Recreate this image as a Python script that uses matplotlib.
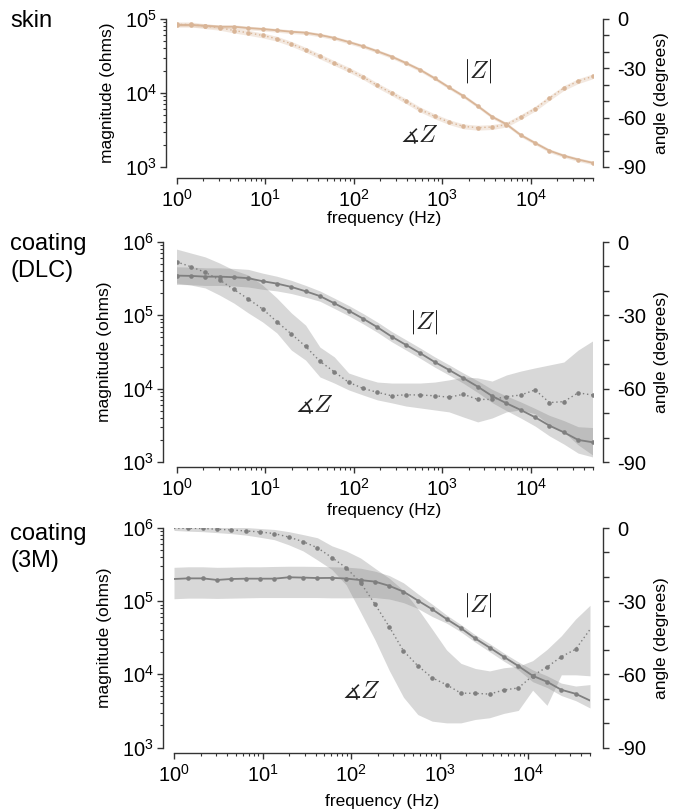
import matplotlib
matplotlib.use("Agg")
import matplotlib.pyplot as plt
import matplotlib.ticker as mticker
import numpy as np

plt.rcParams['font.family'] = ['Liberation Sans', 'DejaVu Sans']

# frequency sweep (Hz), 30 log-spaced points 1 Hz .. 50 kHz
freq = [1.0, 1.45, 2.11, 3.06, 4.45, 6.46, 9.38, 13.6, 19.8, 28.7,
        41.7, 60.6, 88.0, 128, 186, 270, 391, 568, 825, 1199,
        1741, 2528, 3671, 5332, 7743, 11245, 16330, 23715, 34440, 50000]

# skin
skin_mag = [83000, 83000, 81000, 78700, 78700, 75500, 73200, 70300, 67300, 65300,
            60800, 55400, 48900, 42800, 36600, 31000, 25400, 20500, 15800, 11900,
            9100, 6660, 4780, 3780, 2700, 2110, 1660, 1420, 1260, 1140]
skin_ang = [-3.3, -3.3, -4.4, -5.3, -7.0, -8.4, -10.0, -12.0, -15.1, -18.7,
            -22.8, -26.8, -30.8, -35.3, -40.4, -45.1, -50.0, -55.1, -59.2, -62.7,
            -65.3, -66.1, -65.7, -64.2, -59.6, -54.5, -48.1, -42.0, -37.8, -34.9]
skin_mag_sd = 0.025   # decades
skin_ang_sd = 1.5     # degrees

# coating (DLC)
dlc_mag = [348000, 345000, 337000, 337000, 331000, 321000, 292000, 271000, 244000, 213000,
           183000, 146000, 116000, 90100, 68800, 51200, 39500, 30400, 23100, 18000,
           13900, 10650, 7950, 6320, 5120, 4070, 3130, 2540, 2000, 1860]
dlc_mag_sd = [0.12, 0.12, 0.12, 0.12, 0.12, 0.12, 0.11, 0.10, 0.09, 0.08,
              0.07, 0.07, 0.07, 0.07, 0.07, 0.07, 0.07, 0.07, 0.07, 0.07,
              0.07, 0.08, 0.09, 0.10, 0.11, 0.12, 0.14, 0.16, 0.18, 0.20]
dlc_ang = [-8.1, -10.1, -12.4, -15.5, -19.4, -23.3, -27.4, -32.6, -37.6, -42.7,
           -48.8, -53.1, -57.4, -59.9, -61.5, -62.9, -62.5, -62.6, -62.9, -63.5,
           -62.3, -64.4, -64.4, -63.3, -62.6, -60.5, -65.7, -65.3, -61.7, -62.6]
dlc_ang_hi = [-2.9, -4.5, -6.1, -8.6, -11.5, -13.5, -17.6, -22.9, -29.0, -34.0,
              -43.0, -47.0, -53.6, -55.6, -57.3, -57.7, -57.7, -57.7, -57.3, -56.4,
              -55.2, -55.6, -56.9, -54.4, -52.8, -51.5, -50.3, -49.1, -44.2, -40.5]
dlc_ang_lo = [-16.8, -17.6, -18.8, -21.7, -25.0, -29.0, -32.7, -37.2, -44.2, -48.3,
              -55.2, -57.7, -60.5, -62.6, -64.6, -65.8, -67.1, -67.9, -68.7, -69.5,
              -71.6, -73.6, -72.0, -69.5, -68.7, -70.3, -74.8, -77.7, -83.0, -87.1]

# coating (3M)
m3_mag = [201000, 205000, 205000, 195000, 201000, 203000, 203000, 203000, 212000, 210000,
          207000, 208000, 204000, 194000, 185000, 162000, 135000, 102000, 77500, 57000,
          42800, 30900, 23200, 17300, 13000, 9570, 7920, 6150, 5420, 4390]
m3_mag_hi = [290000, 295000, 295000, 290000, 292000, 295000, 295000, 298000, 300000, 300000,
             298000, 295000, 292000, 282000, 257000, 224000, 178000, 126000, 91000, 64600,
             47900, 34700, 26300, 19500, 14800, 11500, 9550, 7590, 6920, 7240]
m3_mag_lo = [108000, 110000, 110000, 109000, 110000, 111000, 112000, 112000, 112000, 112000,
             112000, 111000, 111000, 112000, 112000, 107000, 95500, 79400, 61700, 50100,
             38000, 27500, 20400, 15100, 11500, 7940, 6610, 5130, 4370, 3470]
m3_ang = [-0.2, -0.1, -0.2, -0.5, -0.8, -1.2, -1.6, -2.3, -3.7, -5.6,
          -8.1, -12.1, -16.3, -22.4, -31.2, -40.5, -50.4, -56.5, -61.4, -64.3,
          -67.7, -67.8, -68.1, -66.4, -65.6, -60.6, -57.0, -52.8, -49.7, -41.6]
m3_ang_hi = [1.0, 0.8, 0.6, 0.6, 0.4, 0.2, -0.2, -0.6, -1.5, -2.7,
             -4.0, -7.3, -9.4, -12.3, -16.5, -20.6, -25.6, -33.1, -41.5, -50.0,
             -55.5, -57.6, -58.6, -57.3, -56.7, -54.4, -49.8, -44.2, -37.3, -31.7]
m3_ang_lo = [-1.0, -1.3, -1.5, -1.9, -2.3, -2.9, -3.8, -4.8, -6.9, -9.4,
             -13.1, -17.0, -23.3, -34.5, -45.8, -58.4, -69.4, -76.5, -79.2, -79.9,
             -79.9, -78.5, -77.8, -76.0, -74.8, -66.5, -72.7, -60.2, -60.2, -60.6]


def panel(rect, mag, mag_lo, mag_hi, ang, ang_lo, ang_hi, color, ylim,
          label_pos, out, xlabelpad, markevery=None):
    ax = fig.add_axes(rect)
    ax2 = ax.twinx()

    ax.fill_between(freq, mag_lo, mag_hi, color=color, alpha=0.3, lw=0)
    ax.plot(freq, mag, '-', color=color, lw=1.3, marker='o', ms=3.3,
            mew=0, markevery=markevery)
    ax2.fill_between(freq, ang_lo, ang_hi, color=color, alpha=0.3, lw=0)
    ax2.plot(freq, ang, color=color, lw=1.0, ls=(0, (1, 2)), marker='o',
             ms=3.3, mew=0, markevery=markevery)

    ax.set_xscale('log')
    ax.set_yscale('log')
    ax.set_xlim(1, 5e4)
    ax.set_ylim(*ylim)
    ax2.set_ylim(-90, 0)

    for s in ['top', 'right']:
        ax.spines[s].set_visible(False)
    for s in ['top', 'left', 'bottom']:
        ax2.spines[s].set_visible(False)
    ax.spines['left'].set_position(('outward', out[0]))
    ax.spines['bottom'].set_position(('outward', out[1]))
    ax2.spines['right'].set_position(('outward', out[2]))
    for a in (ax, ax2):
        for s in a.spines.values():
            s.set_color('#333333')
            s.set_linewidth(1.0)

    ax.xaxis.set_major_locator(mticker.LogLocator(base=10, numticks=10))
    ax.xaxis.set_minor_locator(mticker.LogLocator(base=10, subs=np.arange(2, 10), numticks=10))
    ax.yaxis.set_major_locator(mticker.LogLocator(base=10, numticks=10))
    ax.yaxis.set_minor_locator(mticker.LogLocator(base=10, subs=np.arange(2, 10), numticks=10))
    ax.yaxis.set_minor_formatter(mticker.NullFormatter())
    ax.xaxis.set_minor_formatter(mticker.NullFormatter())
    ax2.yaxis.set_major_locator(mticker.MultipleLocator(30))
    ax2.yaxis.set_minor_locator(mticker.MultipleLocator(10))
    ax2.yaxis.set_major_formatter(mticker.FuncFormatter(lambda v, p: '%d' % v))

    ax.tick_params(which='major', length=4, width=1.0, color='#333333', labelsize=14.5)
    ax.tick_params(which='minor', length=2.5, width=0.8, color='#333333')
    ax.tick_params(axis='y', which='major', pad=2.5)
    ax.tick_params(axis='x', which='major', pad=4)
    ax2.tick_params(which='both', length=4, width=1.0, color='#333333', labelsize=14.5, pad=6)

    ax.set_xlabel('frequency (Hz)', fontsize=12.5, labelpad=xlabelpad)
    ax.set_ylabel('magnitude (ohms)', fontsize=12.5, labelpad=7)
    ax2.set_ylabel('angle (degrees)', fontsize=12.5, labelpad=6)

    ax.text(label_pos[0][0], label_pos[0][1], r'$|Z|$', fontsize=18,
            math_fontfamily='cm', ha='center', va='center', color='#222222')
    ax.text(label_pos[1][0], label_pos[1][1], r'$\measuredangle Z$', fontsize=18,
            math_fontfamily='cm', ha='center', va='center', color='#222222')
    return ax, ax2


fig = plt.figure(figsize=(6.84, 8.10), dpi=100)

panel([176.5 / 684, 1 - 167 / 810, 416 / 684, 148 / 810],
      skin_mag,
      [m * 10 ** -skin_mag_sd for m in skin_mag],
      [m * 10 ** skin_mag_sd for m in skin_mag],
      skin_ang,
      [a - skin_ang_sd for a in skin_ang],
      [a + skin_ang_sd for a in skin_ang],
      '#D9B597', (1e3, 1e5),
      [(2550, 2.0e4), (560, 2700)], (7.6, 7.9, 7.6), 0)

panel([176.5 / 684, 1 - 462 / 810, 416 / 684, 220 / 810],
      dlc_mag,
      [m * 10 ** -s for m, s in zip(dlc_mag, dlc_mag_sd)],
      [m * 10 ** s for m, s in zip(dlc_mag, dlc_mag_sd)],
      dlc_ang, dlc_ang_lo, dlc_ang_hi,
      '#7F7F7F', (1e3, 1e6),
      [(630, 8.1e4), (36, 6000)], (9.7, 3.6, 7.6), 2)

panel([174 / 684, 1 - 747.5 / 810, 416 / 684, 219.5 / 810],
      m3_mag, m3_mag_lo, m3_mag_hi,
      m3_ang, m3_ang_lo, m3_ang_hi,
      '#7F7F7F', (1e3, 1e6),
      [(2700, 8.9e4), (130, 5800)], (7.9, 4.0, 9.4), 6,
      markevery=slice(1, 29))

fig.text(10 / 684, 1 - 10 / 810, 'skin', fontsize=17, va='top', ha='left')
fig.text(10 / 684, 1 - 233 / 810, 'coating\n(DLC)', fontsize=17, va='top', ha='left',
         linespacing=1.3)
fig.text(10 / 684, 1 - 523 / 810, 'coating\n(3M)', fontsize=17, va='top', ha='left',
         linespacing=1.3)

fig.savefig('out.png', dpi=100)
